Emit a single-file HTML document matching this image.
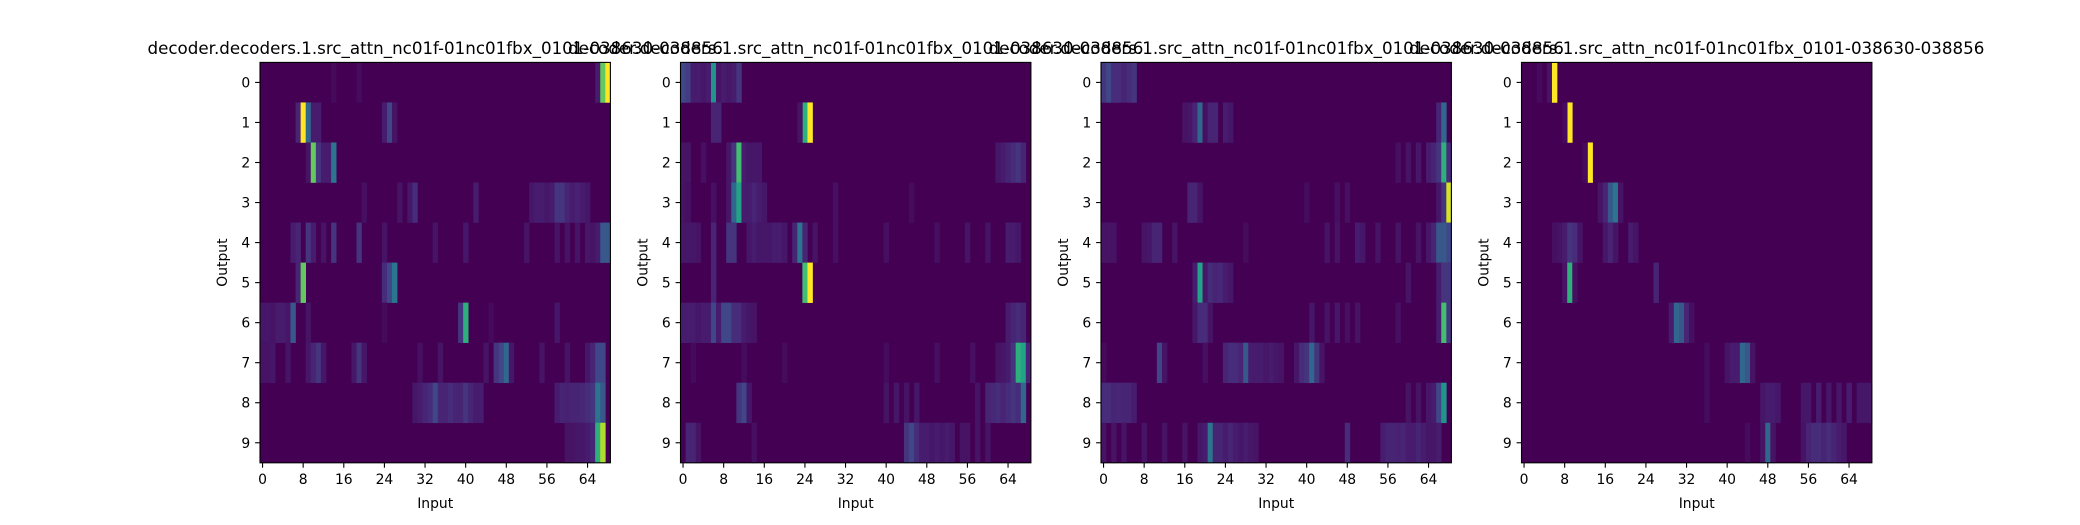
<!DOCTYPE html>
<html><head><meta charset="utf-8"><style>
html,body{margin:0;padding:0;background:#fff;}
svg text{font-family:"DejaVu Sans","Liberation Sans",sans-serif;fill:#000;}
</style></head><body>
<svg id="fig" width="2080" height="520" viewBox="0 0 2080 520" xmlns="http://www.w3.org/2000/svg"></svg>
<script>
const nCols = 69;
const nRows = 10;
const xTickLabels = [0,8,16,24,32,40,48,56,64];
const yTickLabels = [0,1,2,3,4,5,6,7,8,9];
const panelTitle = "decoder.decoders.1.src_attn_nc01f-01nc01fbx_0101-038630-038856";
// sparse values per row: [col, value]
const panel1 = [
 [[66,0.15],[67,0.8],[68,1.0],[14,0.05],[19,0.06]],
 [[7,0.2],[8,1.0],[9,0.45],[10,0.15],[11,0.15],[24,0.15],[25,0.35],[26,0.1]],
 [[9,0.1],[10,0.8],[11,0.3],[12,0.15],[13,0.15],[14,0.5]],
 [[20,0.08],[27,0.1],[29,0.12],[30,0.25],[42,0.15],[53,0.12],[54,0.15],[55,0.15],[56,0.12],[57,0.15],[58,0.3],[59,0.3],[60,0.2],[61,0.15],[62,0.18],[63,0.15],[64,0.12]],
 [[6,0.15],[7,0.2],[9,0.3],[10,0.15],[12,0.1],[14,0.3],[19,0.3],[24,0.1],[34,0.1],[40,0.12],[52,0.1],[58,0.1],[60,0.1],[62,0.1],[64,0.12],[65,0.1],[66,0.15],[67,0.4],[68,0.4]],
 [[7,0.2],[8,0.8],[24,0.25],[25,0.35],[26,0.5]],
 [[0,0.12],[1,0.12],[2,0.1],[3,0.15],[4,0.15],[5,0.12],[6,0.4],[9,0.1],[24,0.05],[39,0.3],[40,0.7],[45,0.05],[58,0.12]],
 [[0,0.1],[1,0.1],[2,0.12],[5,0.1],[9,0.12],[10,0.2],[11,0.3],[12,0.12],[18,0.12],[19,0.3],[20,0.12],[31,0.08],[35,0.1],[44,0.1],[46,0.3],[47,0.35],[48,0.45],[49,0.12],[55,0.1],[60,0.1],[64,0.12],[65,0.2],[66,0.35],[67,0.35]],
 [[30,0.12],[31,0.15],[32,0.2],[33,0.25],[34,0.35],[35,0.2],[36,0.2],[37,0.25],[38,0.2],[39,0.2],[40,0.3],[41,0.2],[42,0.15],[43,0.15],[58,0.15],[59,0.2],[60,0.18],[61,0.2],[62,0.2],[63,0.22],[64,0.25],[65,0.3],[66,0.5],[67,0.4]],
 [[60,0.1],[61,0.1],[62,0.12],[63,0.12],[64,0.15],[65,0.2],[66,0.7],[67,0.9]]
];
const panel2 = [
 [[0,0.35],[1,0.32],[2,0.15],[3,0.15],[4,0.12],[5,0.15],[6,0.6],[7,0.1],[8,0.15],[9,0.12],[10,0.15],[11,0.3]],
 [[6,0.2],[7,0.2],[24,0.7],[25,1.0],[23,0.1]],
 [[0,0.1],[1,0.1],[4,0.08],[9,0.12],[10,0.3],[11,0.75],[12,0.15],[13,0.12],[14,0.12],[15,0.12],[62,0.12],[63,0.15],[64,0.2],[65,0.25],[66,0.3],[67,0.2]],
 [[0,0.1],[1,0.08],[6,0.08],[9,0.12],[10,0.45],[11,0.65],[12,0.15],[13,0.15],[14,0.2],[15,0.15],[16,0.12],[30,0.08],[45,0.06]],
 [[0,0.12],[1,0.12],[2,0.12],[3,0.1],[6,0.2],[9,0.3],[10,0.3],[13,0.12],[14,0.15],[15,0.12],[16,0.12],[17,0.12],[18,0.15],[19,0.15],[20,0.12],[22,0.2],[23,0.5],[24,0.2],[26,0.1],[30,0.08],[40,0.08],[50,0.08],[56,0.1],[60,0.1],[64,0.15],[65,0.15],[66,0.12]],
 [[6,0.2],[24,0.75],[25,1.0]],
 [[0,0.15],[1,0.15],[2,0.15],[3,0.12],[4,0.15],[5,0.15],[6,0.35],[7,0.15],[8,0.35],[9,0.35],[10,0.25],[11,0.25],[12,0.15],[13,0.12],[14,0.1],[64,0.15],[65,0.2],[66,0.25],[67,0.2]],
 [[2,0.05],[12,0.06],[20,0.06],[40,0.06],[50,0.08],[57,0.08],[62,0.1],[63,0.12],[64,0.15],[65,0.3],[66,0.7],[67,0.65],[68,0.2]],
 [[11,0.3],[12,0.35],[13,0.12],[40,0.1],[42,0.12],[44,0.1],[46,0.12],[58,0.1],[60,0.2],[61,0.22],[62,0.25],[63,0.2],[64,0.25],[65,0.3],[66,0.25],[67,0.45]],
 [[1,0.2],[2,0.2],[3,0.1],[14,0.08],[44,0.3],[45,0.35],[46,0.25],[47,0.15],[48,0.15],[49,0.12],[50,0.15],[51,0.12],[52,0.15],[53,0.12],[55,0.1],[56,0.1],[58,0.1],[60,0.1]]
];
const panel3 = [
 [[0,0.3],[1,0.35],[2,0.25],[3,0.25],[4,0.2],[5,0.25],[6,0.3]],
 [[16,0.1],[17,0.12],[18,0.2],[19,0.45],[20,0.08],[21,0.2],[22,0.2],[24,0.15],[25,0.12],[66,0.2],[67,0.45]],
 [[58,0.08],[60,0.1],[62,0.12],[64,0.15],[65,0.2],[66,0.3],[67,0.7],[68,0.25]],
 [[17,0.2],[18,0.2],[19,0.1],[40,0.06],[46,0.08],[48,0.08],[66,0.12],[67,0.3],[68,0.95]],
 [[0,0.1],[1,0.1],[2,0.1],[8,0.1],[9,0.12],[10,0.2],[11,0.2],[14,0.1],[28,0.06],[44,0.1],[46,0.1],[50,0.15],[51,0.12],[54,0.1],[58,0.1],[62,0.1],[64,0.12],[65,0.2],[66,0.4],[67,0.4],[68,0.35]],
 [[18,0.15],[19,0.65],[20,0.12],[21,0.25],[22,0.2],[23,0.22],[24,0.15],[25,0.12],[60,0.1],[66,0.15],[67,0.3],[68,0.3]],
 [[18,0.12],[19,0.25],[20,0.25],[21,0.1],[41,0.12],[44,0.1],[46,0.12],[48,0.08],[50,0.1],[58,0.08],[66,0.15],[67,0.75],[68,0.3]],
 [[0,0.05],[11,0.35],[12,0.1],[20,0.08],[24,0.2],[25,0.25],[26,0.25],[27,0.2],[28,0.4],[29,0.15],[30,0.15],[31,0.15],[32,0.12],[33,0.15],[34,0.12],[35,0.1],[38,0.12],[39,0.25],[40,0.3],[41,0.45],[42,0.3],[43,0.1]],
 [[0,0.25],[1,0.25],[2,0.2],[3,0.22],[4,0.2],[5,0.2],[6,0.15],[60,0.1],[62,0.1],[64,0.12],[65,0.15],[66,0.35],[67,0.6]],
 [[0,0.1],[2,0.1],[4,0.1],[8,0.1],[12,0.1],[16,0.1],[19,0.12],[20,0.15],[21,0.5],[22,0.2],[23,0.2],[24,0.15],[25,0.2],[26,0.15],[27,0.12],[28,0.15],[29,0.12],[30,0.1],[48,0.25],[55,0.15],[56,0.2],[57,0.2],[58,0.18],[59,0.2],[60,0.15],[61,0.15],[62,0.2],[63,0.15],[64,0.12],[65,0.12],[66,0.15]]
];
const panel4 = [
 [[3,0.05],[5,0.1],[6,1.0]],
 [[9,1.0],[8,0.05]],
 [[13,1.0],[12,0.05]],
 [[15,0.1],[16,0.2],[17,0.4],[18,0.5],[19,0.1]],
 [[6,0.08],[7,0.1],[8,0.15],[9,0.3],[10,0.25],[11,0.1],[16,0.12],[17,0.2],[18,0.1],[21,0.15],[22,0.1]],
 [[8,0.1],[9,0.7],[10,0.08],[26,0.2]],
 [[29,0.15],[30,0.45],[31,0.4],[32,0.2],[33,0.08]],
 [[36,0.06],[40,0.1],[41,0.15],[42,0.15],[43,0.45],[44,0.4],[45,0.1]],
 [[36,0.06],[47,0.12],[48,0.15],[49,0.15],[50,0.12],[55,0.12],[56,0.12],[58,0.15],[60,0.12],[62,0.12],[64,0.15],[66,0.12],[67,0.12],[68,0.12]],
 [[44,0.06],[47,0.1],[48,0.45],[49,0.1],[55,0.1],[56,0.2],[57,0.25],[58,0.25],[59,0.2],[60,0.25],[61,0.2],[62,0.15],[63,0.12]]
];
const panels = [panel1, panel2, panel3, panel4];

const VIR = [[0,[68,1,84]],[0.1,[72,36,117]],[0.2,[65,68,135]],[0.3,[53,95,141]],[0.4,[42,120,142]],[0.5,[33,145,140]],[0.6,[34,168,132]],[0.7,[68,191,112]],[0.8,[122,209,81]],[0.9,[189,223,38]],[1,[253,231,37]]];
function norm(v){ return v<0.3 ? v*0.5 : 0.15+(v-0.3)*(0.85/0.7); }
function viridis(v){
  v=Math.max(0,Math.min(1,norm(v)));
  for(let i=0;i<VIR.length-1;i++){
    const a=VIR[i],b=VIR[i+1];
    if(v<=b[0]){const t=(v-a[0])/(b[0]-a[0]);
      const c=a[1].map((x,k)=>Math.round(x+(b[1][k]-x)*t));
      return `rgb(${c[0]},${c[1]},${c[2]})`;}
  }
  return 'rgb(253,231,37)';
}
const NS="http://www.w3.org/2000/svg";
const svg=document.getElementById('fig');
function mk(tag,attrs,parent){const e=document.createElementNS(NS,tag);for(const k in attrs)e.setAttribute(k,attrs[k]);(parent||svg).appendChild(e);return e;}
const axW=350.4, axH=400.4, axTop=62.4, gap=420.5, axLeft0=260;
const cw=axW/nCols, rh=axH/nRows;
panels.forEach((data,p)=>{
  const L=axLeft0+p*gap;
  const g=mk('g',{});
  
  
  const xS=c=>L+c*cw, yS=r=>axTop+r*rh;
  const bg=mk('rect',{x:L,y:axTop,width:axW,height:axH,fill:viridis(0.0)},g);
  
  
  data.forEach((row,r)=>{
    row.forEach(([c,v])=>{
      const cell=mk('rect',{x:xS(c).toFixed(2),y:yS(r).toFixed(2),width:(cw+0.3).toFixed(2),height:(rh+0.3).toFixed(2),fill:viridis(v)},g);
      
      
    });
  });
  const fr=mk('rect',{x:L,y:axTop,width:axW,height:axH,fill:'none',stroke:'#000','stroke-width':1.1},g);
  
  
  xTickLabels.forEach(t=>{
    const x=xS(t+0.5);
    mk('line',{x1:x,x2:x,y1:axTop+axH,y2:axTop+axH+4.9,stroke:'#000','stroke-width':1.1},g);
    const tx=mk('text',{x:x,y:axTop+axH+21,'font-size':13.9,'text-anchor':'middle'},g);
    tx.textContent=t;
    
    
  });
  yTickLabels.forEach(t=>{
    const y=yS(t+0.5);
    mk('line',{x1:L-4.9,x2:L,y1:y,y2:y,stroke:'#000','stroke-width':1.1},g);
    const tx=mk('text',{x:L-9.8,y:y+5,'font-size':13.9,'text-anchor':'end'},g);
    tx.textContent=t;
    
    
  });
  const xl=mk('text',{x:L+axW/2,y:508,'font-size':13.9,'text-anchor':'middle'},g);
  xl.textContent='Input';
  
  
  const yl=mk('text',{x:0,y:0,'font-size':13.9,'text-anchor':'middle',transform:`translate(${L-33},${axTop+axH/2}) rotate(-90)`},g);
  yl.textContent='Output';
  
  
  const tt=mk('text',{x:L+axW/2,y:54,'font-size':16.7,'text-anchor':'middle'},g);
  tt.textContent=panelTitle;
  
  
});
</script>
</body></html>
